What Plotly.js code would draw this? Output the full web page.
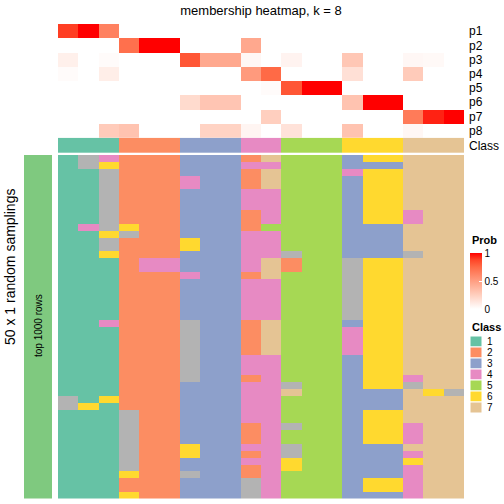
<!DOCTYPE html>
<html>
<head>
<meta charset="utf-8">
<script src="https://cdn.plot.ly/plotly-3.0.1.min.js"></script>
<style>html,body{margin:0;padding:0;background:#fff;}#chart{width:504px;height:504px;}</style>
</head>
<body>
<div id="chart"></div>
<script>
// ---------- data ----------
const probRowLabels = ['p1','p2','p3','p4','p5','p6','p7','p8'];
const p1 = [0.89,1,0.64,0,0,0,0,0,0,0,0,0,0,0,0,0,0,0,0,0];
const p2 = [0,0,0,0.72,1,1,0,0,0,0.45,0,0,0,0,0,0,0,0,0,0];
const p3 = [0.08,0,0.02,0,0,0,0.82,0.45,0.45,0.04,0,0.06,0,0,0.29,0,0,0.04,0.03,0];
const p4 = [0.02,0,0.09,0,0,0,0,0,0,0.52,0.75,0,0,0,0.16,0,0,0.27,0,0];
const p5 = [0,0,0,0,0,0,0,0,0,0,0.02,0.82,1,1,0,0,0,0,0,0];
const p6 = [0,0,0,0,0,0,0.19,0.3,0.3,0,0,0,0,0,0.31,1,1,0,0,0];
const p7 = [0,0,0,0,0,0,0,0,0,0,0.25,0,0,0,0,0,0,0.67,0.94,1];
const p8 = [0,0,0.27,0.31,0,0,0,0.23,0.23,0.05,0,0.15,0,0,0.31,0,0,0.04,0,0];
const columnClass = [1,1,1,2,2,2,3,3,3,4,4,5,5,5,6,6,6,7,7,7];
// 50 random samplings (rows) x 20 samples (columns); 8 = unassigned (grey)
const samplingRows = [
 "18422233327555366777","18622233344555333777","11822233327555466777","11822243327555366777",
 "11822243327555366777","11822233344555366777","11822233344555366777","11822233344555366777",
 "11822233324555366477","11822233324555366477","14862233325555333777","11682233344555333777",
 "11822263344555333777","11822263344555333777","11622233344855333877","11124433347255866777",
 "11124433347255866777","11122243327555866777","11122233344555866777","11122233344555866777",
 "11122233344555866777","11122233344555866777","11122233344555866777","11122233344555866777",
 "11422283327555366777","11122283327555466777","11122283327555466777","11122283327555466777",
 "11122283327555466777","11122283344555366777","11122283344555366777","11122283344555366777",
 "11122283324555366477","11122233344855366877","11122233344755333768","81622233344555333777",
 "86122233344555333777","11182233344555366777","11182233344555366777","11182233324855366477",
 "11182233324555366477","11182233324555366477","11182263344855333777","11182263324855333477",
 "11182233344655333677","11182233324655333477","11162283324555333477","11122233384555366477",
 "11122233384555366477","11162233384555333477"
];
const classLegendLabels = ['1','2','3','4','5','6','7'];
const classColors = ['#66C2A5','#FC8D62','#8DA0CB','#E78AC3','#A6D854','#FFD92F','#E5C494','#B3B3B3'];
const probTicks = [0, 0.5, 1];
const leftLabel = 'top 1000 rows';
const rowTitle = '50 x 1 random samplings';
const chartTitle = 'membership heatmap, k = 8';

// ---------- helpers ----------
const W = 504, H = 504;
const px = x => x / W;
const py = y => 1 - y / H;
const FONT = 'Liberation Sans, Arial, Helvetica, sans-serif';
const nCol = columnClass.length;
const colIdx = Array.from({length: nCol}, (_, i) => i);

const probZ = [p1,p2,p3,p4,p5,p6,p7,p8];
const sampZ = samplingRows.map(s => s.split('').map(Number));

const probScale = [
 [0,'rgb(255,255,255)'],[0.125,'rgb(255,231,223)'],[0.25,'rgb(255,207,191)'],
 [0.375,'rgb(255,183,160)'],[0.5,'rgb(255,158,130)'],[0.625,'rgb(255,132,100)'],
 [0.75,'rgb(255,106,70)'],[0.875,'rgb(255,70,40)'],[1,'rgb(255,0,0)']
];
const nC = classColors.length;
const discreteScale = [];
classColors.forEach((c, i) => { discreteScale.push([i / nC, c]); discreteScale.push([(i + 1) / nC, c]); });

// ---------- traces ----------
const traces = [
 { type:'heatmap', z: probZ, x: colIdx, y: probRowLabels.map((_, i) => i),
   xaxis:'x', yaxis:'y', colorscale: probScale, zmin:0, zmax:1, hoverinfo:'skip',
   showscale:true,
   colorbar:{ x:px(470), xanchor:'left', y:py(281), yanchor:'middle', len:56, lenmode:'pixels',
     thickness:12, thicknessmode:'pixels', outlinewidth:0, xpad:0, ypad:0,
     tickvals: probTicks, ticktext: probTicks.map(String), ticks:'inside', ticklen:3,
     tickcolor:'#ffffff', tickfont:{family:FONT, size:10, color:'#000'} } },
 { type:'heatmap', z:[columnClass], x: colIdx, y:[0], xaxis:'x', yaxis:'y2',
   colorscale: discreteScale, zmin:0.5, zmax:nC + 0.5, showscale:false, hoverinfo:'skip' },
 { type:'heatmap', z: sampZ, x: colIdx, y: sampZ.map((_, i) => i), xaxis:'x', yaxis:'y3',
   colorscale: discreteScale, zmin:0.5, zmax:nC + 0.5, showscale:false, hoverinfo:'skip' },
 { type:'heatmap', z:[[1]], x:[0], y:[0], xaxis:'x2', yaxis:'y4',
   colorscale:[[0,'#7FC97F'],[1,'#7FC97F']], showscale:false, hoverinfo:'skip' }
];

// ---------- layout ----------
const shapes = [];
const annotations = [
 { text: rowTitle, x:px(10), y:py(267), xref:'paper', yref:'paper', textangle:-90, showarrow:false,
   xanchor:'center', yanchor:'middle', font:{family:FONT, size:14, color:'#000'} },
 { text: leftLabel, x:px(38), y:py(326), xref:'paper', yref:'paper', textangle:-90, showarrow:false,
   xanchor:'center', yanchor:'middle', font:{family:FONT, size:10, color:'#000'} },
 { text:'<b>Prob</b>', x:px(470), y:py(240), xref:'paper', yref:'paper', showarrow:false,
   xanchor:'left', yanchor:'middle', font:{family:FONT, size:11, color:'#000'} },
 { text:'<b>Class</b>', x:px(470), y:py(327), xref:'paper', yref:'paper', showarrow:false,
   xanchor:'left', yanchor:'middle', font:{family:FONT, size:11, color:'#000'} }
];
classLegendLabels.forEach((lab, i) => {
  const top = 336 + i * 11;
  shapes.push({ type:'rect', xref:'paper', yref:'paper', x0:px(470), x1:px(482), y0:py(top), y1:py(top + 11),
    fillcolor: classColors[i], line:{color:'#ffffff', width:1} });
  annotations.push({ text: lab, x:px(485), y:py(top + 5.5), xref:'paper', yref:'paper', showarrow:false,
    xanchor:'left', yanchor:'middle', font:{family:FONT, size:10, color:'#000'} });
});

const hidden = { showgrid:false, zeroline:false, showline:false, ticks:'' };
const layout = {
  width:W, height:H, margin:{l:0, r:0, t:0, b:0}, paper_bgcolor:'#fff', plot_bgcolor:'#fff',
  showlegend:false,
  title:{ text: chartTitle, x:px(261), xanchor:'center', y:py(10), yanchor:'middle', yref:'container',
    font:{family:FONT, size:13, color:'#000'} },
  xaxis: Object.assign({}, hidden, { domain:[px(58), px(464)], range:[-0.5, nCol - 0.5], showticklabels:false, anchor:'y3' }),
  xaxis2: Object.assign({}, hidden, { domain:[px(24), px(52)], range:[-0.5, 0.5], showticklabels:false, anchor:'y4' }),
  yaxis: Object.assign({}, hidden, { domain:[py(137.7), py(24)], range:[7.5, -0.5], side:'right', anchor:'x',
    tickvals: probRowLabels.map((_, i) => i), ticktext: probRowLabels, ticklabelstandoff:4,
    tickfont:{family:FONT, size:12, color:'#000'} }),
  yaxis2: Object.assign({}, hidden, { domain:[py(153), py(137.7)], range:[0.5, -0.5], side:'right', anchor:'x',
    tickvals:[0], ticktext:['Class'], ticklabelstandoff:4, tickfont:{family:FONT, size:12, color:'#000'} }),
  yaxis3: Object.assign({}, hidden, { domain:[py(498.5), py(155)], range:[samplingRows.length - 0.5, -0.5], showticklabels:false, anchor:'x' }),
  yaxis4: Object.assign({}, hidden, { domain:[py(498.5), py(155)], range:[-0.5, 0.5], showticklabels:false, anchor:'x2' }),
  shapes, annotations
};

Plotly.newPlot('chart', traces, layout, {staticPlot:true, displayModeBar:false});
</script>
</body>
</html>
